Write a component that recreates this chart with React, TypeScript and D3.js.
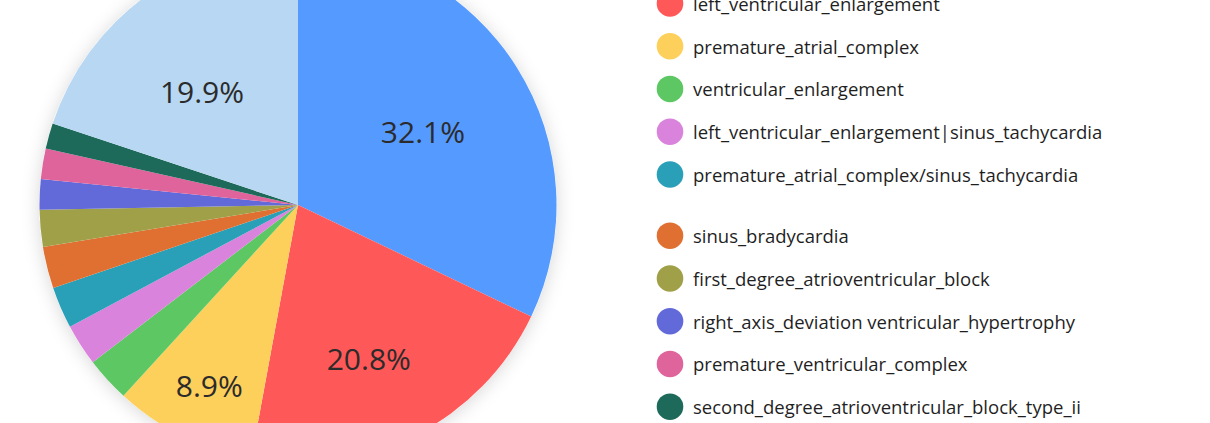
import React from "react";
import * as d3 from "d3";

const categories = [
  "sinus_rhythm",
  "left_ventricular_enlargement",
  "premature_atrial_complex",
  "ventricular_enlargement",
  "left_ventricular_enlargement|sinus_tachycardia",
  "premature_atrial_complex/sinus_tachycardia",
  "sinus_bradycardia",
  "first_degree_atrioventricular_block",
  "right_axis_deviation ventricular_hypertrophy",
  "premature_ventricular_complex",
  "second_degree_atrioventricular_block_type_ii",
  "sinus_tachycardia",
];

const values = [32.1, 20.8, 8.9, 2.8, 2.6, 2.6, 2.6, 2.3, 1.9, 1.9, 1.6, 19.9];

const colors = [
  "#559AFF",
  "#FF5858",
  "#FDCF5B",
  "#5DC863",
  "#DA83DC",
  "#2A9FB8",
  "#E07032",
  "#A0A049",
  "#6269D9",
  "#E0649C",
  "#1E6A5A",
  "#B8D7F2",
];

// radial position of the percentage labels (fraction of radius) and angular nudge (degrees)
const labelRadius: Record<string, number> = {
  sinus_rhythm: 0.565,
  left_ventricular_enlargement: 0.648,
  premature_atrial_complex: 0.77,
  sinus_tachycardia: 0.58,
};
const labelAngleNudge: Record<string, number> = {
  sinus_rhythm: 1,
  left_ventricular_enlargement: 2,
  premature_atrial_complex: 0,
  sinus_tachycardia: -4,
};

const W = 1210;
const H = 423;
const CX = 298;
const CY = 205;
const R = 258.5;

export default function App() {
  const pie = d3
    .pie<number>()
    .sort(null)
    .value((d) => d)
    .startAngle(0)
    .endAngle(2 * Math.PI);
  const arcs = pie(values);
  const arc = d3.arc<d3.PieArcDatum<number>>().innerRadius(0).outerRadius(R);
  const total = d3.sum(values);

  const legendX = 670;
  const legendY0 = -39.3;
  const legendStep = 42.75;
  const groupGap = 18.5;
  const legendY = (i: number) => legendY0 + i * legendStep + (i >= 6 ? groupGap : 0);

  return (
    <svg
      width={W}
      height={H}
      style={{ position: "absolute", left: 0, top: 0, background: "#fff" }}
      fontFamily="'Open Sans', 'Noto Sans', sans-serif"
    >
      <defs>
        <filter id="sh" x="-20%" y="-20%" width="140%" height="140%">
          <feDropShadow dx="0" dy="2" stdDeviation="9" floodColor="#000" floodOpacity="0.16" />
        </filter>
      </defs>
      <g transform={`translate(${CX},${CY})`}>
        <circle r={R} fill="#fff" filter="url(#sh)" />
        {arcs.map((a, i) => (
          <path key={categories[i]} d={arc(a) || ""} fill={colors[i]} />
        ))}
        {arcs.map((a, i) => {
          const f = labelRadius[categories[i]];
          if (f === undefined) return null;
          const mid = (a.startAngle + a.endAngle) / 2 + ((labelAngleNudge[categories[i]] || 0) * Math.PI) / 180;
          const rr = f * R;
          const x = rr * Math.sin(mid);
          const y = -rr * Math.cos(mid);
          const pct = ((values[i] / total) * 100).toFixed(1) + "%";
          return (
            <text
              key={"l" + i}
              x={x}
              y={y + 2}
              textAnchor="middle"
              dominantBaseline="central"
              fontSize={30}
              fill="#2b2b2b"
            >
              {pct}
            </text>
          );
        })}
      </g>
      <g>
        {categories.map((c, i) => (
          <g key={"lg" + c} transform={`translate(${legendX},${legendY(i)})`}>
            <circle r={13.3} fill={colors[i]} />
            <text x={23} y={0} dominantBaseline="central" fontSize={18.5} fill="#1f1f1f">
              {c}
            </text>
          </g>
        ))}
      </g>
    </svg>
  );
}
